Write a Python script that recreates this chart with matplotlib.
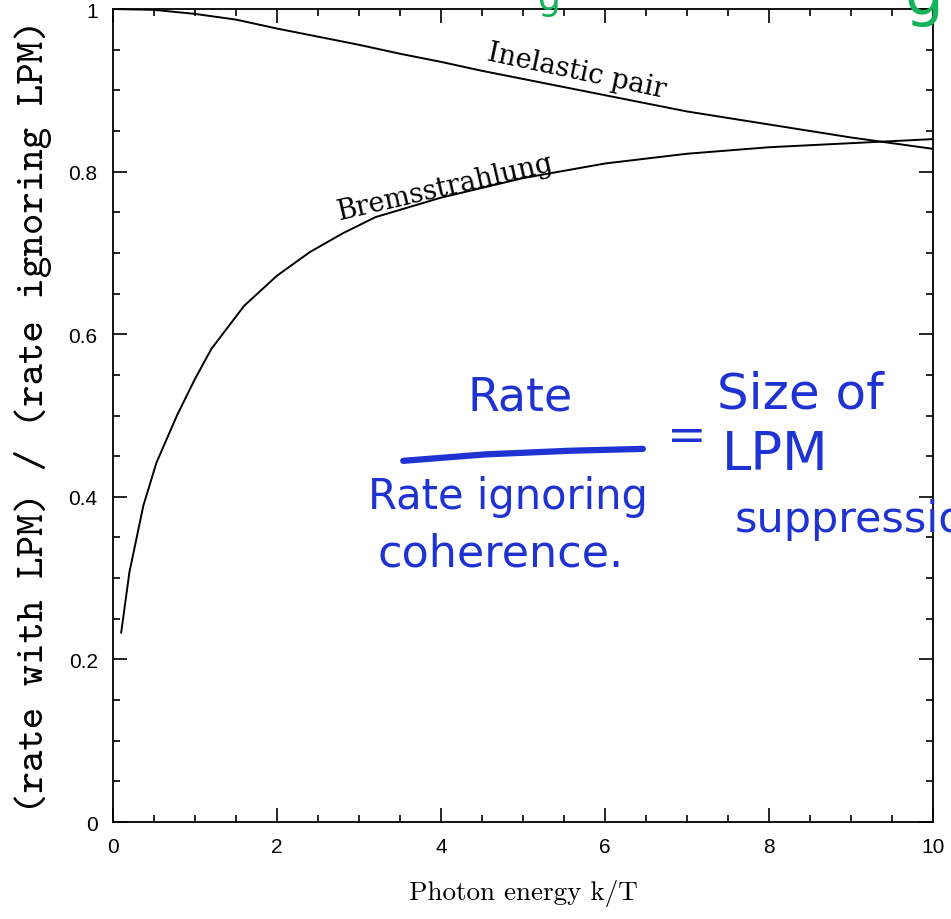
import matplotlib
matplotlib.use("Agg")
import matplotlib.pyplot as plt
from matplotlib.ticker import MultipleLocator
from matplotlib.lines import Line2D

# Inelastic pair suppression curve
k_pair = [0.0, 0.5, 1.0, 1.5, 2.0, 2.5, 3.0, 3.5, 4.0, 4.5, 5.0, 6.0, 7.0, 8.0, 9.0, 10.0]
r_pair = [1.0, 0.999, 0.994, 0.987, 0.976, 0.966, 0.956, 0.945, 0.935, 0.924, 0.914,
          0.894, 0.874, 0.858, 0.842, 0.828]

# Bremsstrahlung suppression curve
k_brem = [0.1, 0.2, 0.37, 0.53, 0.78, 1.0, 1.2, 1.6, 2.0, 2.4, 2.8, 3.2, 4.0, 5.0,
          6.0, 7.0, 8.0, 9.0, 10.0]
r_brem = [0.233, 0.307, 0.389, 0.442, 0.50, 0.545, 0.582, 0.635, 0.672, 0.701, 0.724,
          0.744, 0.768, 0.792, 0.810, 0.822, 0.830, 0.835, 0.840]

BLUE = '#1f33d2'
GREEN = '#12b35a'

fig = plt.figure(figsize=(9.51, 9.2), dpi=100)
ax = fig.add_axes([0.1188, 0.1054, 0.8623, 0.8837])

ax.plot(k_pair, r_pair, color='black', lw=1.4)
ax.plot(k_brem, r_brem, color='black', lw=1.4)

ax.set_xlim(0, 10)
ax.set_ylim(0, 1)
ax.xaxis.set_minor_locator(MultipleLocator(0.5))
ax.yaxis.set_minor_locator(MultipleLocator(0.05))
ax.set_xticks([0, 2, 4, 6, 8, 10])
ax.set_xticklabels(['0', '2', '4', '6', '8', '10'])
ax.set_yticks([0, 0.2, 0.4, 0.6, 0.8, 1.0])
ax.set_yticklabels(['0', '0.2', '0.4', '0.6', '0.8', '1'])
ax.tick_params(which='both', direction='in', top=True, right=True, width=1.2)
ax.tick_params(which='major', length=10, labelsize=15, pad=11)
ax.tick_params(which='minor', length=5)
for lbl in ax.get_xticklabels() + ax.get_yticklabels():
    lbl.set_family('Liberation Sans')
for s in ax.spines.values():
    s.set_linewidth(1.3)

ax.set_xlabel('Photon energy k/T', family='cmr10', fontsize=19.5, labelpad=16)
ax.set_ylabel('(rate with LPM) / (rate ignoring LPM)', family='cmtt10', fontsize=29.5,
              labelpad=12)

# curve labels
ax.text(5.65, 0.924, 'Inelastic pair', family='DejaVu Serif', fontsize=19.5,
        rotation=-12, ha='center', va='center')
ax.text(4.05, 0.781, 'Bremsstrahlung', family='DejaVu Serif', fontsize=19.5,
        rotation=13, ha='center', va='center')

# handwritten notes
hw = dict(color=BLUE, family='DejaVu Sans')
fig.text(0.547, 0.567, 'Rate', fontsize=33, ha='center', va='center', **hw)
fig.add_artist(Line2D([0.424, 0.51, 0.60, 0.676], [0.498, 0.505, 0.509, 0.511],
                      color=BLUE, lw=4.5, solid_capstyle='round'))
fig.text(0.722, 0.524, '=', fontsize=34, ha='center', va='center', **hw)
fig.text(0.387, 0.460, 'Rate ignoring', fontsize=30, ha='left', va='center', **hw)
fig.text(0.397, 0.398, 'coherence.', fontsize=32, ha='left', va='center', **hw)
fig.text(0.754, 0.571, 'Size of', fontsize=36, ha='left', va='center', **hw)
fig.text(0.759, 0.505, 'LPM', fontsize=38, ha='left', va='center', **hw)
fig.text(0.773, 0.435, 'suppression', fontsize=31, ha='left', va='center', **hw)

# cut-off green scribbles at the top edge
fig.text(0.578, 1.0, 'g', color=GREEN, fontsize=26, ha='center', va='center')
fig.text(0.972, 1.003, 'g', color=GREEN, fontsize=44, ha='center', va='center')

fig.savefig('out.png', dpi=100)
